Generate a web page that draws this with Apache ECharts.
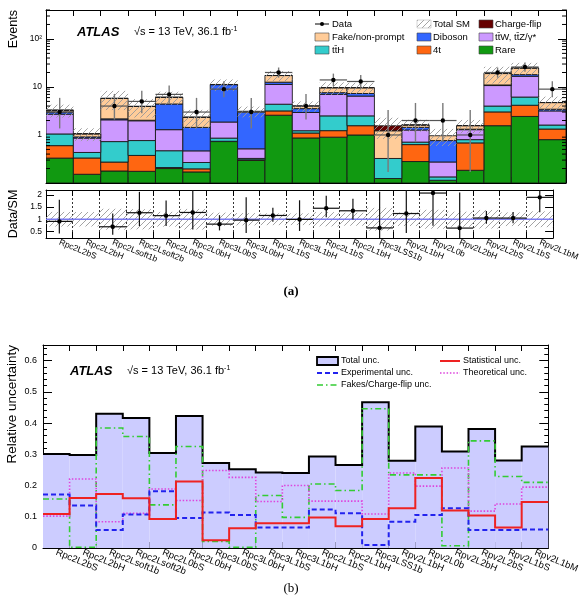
<!DOCTYPE html>
<html><head><meta charset="utf-8">
<script src="https://cdn.jsdelivr.net/npm/echarts@6/dist/echarts.min.js"></script>
<style>html,body{margin:0;padding:0;background:#fff}#c{width:582px;height:602px}</style>
</head><body><div id="c"></div>
<script>
// ---------------- data ----------------
const categories = ['Rpc2L2bS','Rpc2L2bH','Rpc2Lsoft1b','Rpc2Lsoft2b','Rpc2L0bS','Rpc2L0bH','Rpc3L0bS','Rpc3L0bH','Rpc3L1bS','Rpc3L1bH','Rpc2L1bS','Rpc2L1bH','Rpc3LSS1b','Rpv2L1bH','Rpv2L0b','Rpv2L2bH','Rpv2L2bS','Rpv2L1bS','Rpv2L1bM'];
// background yields (stacked, bottom to top)
const rare       = [0.33,0.152,0.178,0.175,0.2,0.17,0.73,0.295,2.58,0.867,0.9,1.0,0.124,0.28,0.114,0.184,1.56,2.43,0.8];
const fourTop    = [0.27,0.18,0.095,0.2,0.01,0.027,0.01,0.01,0.59,0.23,0.33,0.56,0,0.35,0,0.5,1.46,1.73,0.53];
const ttH        = [0.45,0.1,0.455,0.39,0.26,0.07,0.12,0.02,1.2,0.13,1.27,0.94,0.2,0.08,0.02,0.116,0.98,2.0,0.28];
const ttV        = [1.66,0.43,1.34,1.21,0.82,0.2,1.0,0.19,6.9,1.71,4.5,3.95,0,0.56,0.14,0.49,6.7,10.5,1.56];
const diboson    = [0.3,0.05,0.1,0.05,3.13,0.97,9.3,2.5,1.3,0.6,0.6,0.85,0,0.17,0.49,0.03,0.3,1.4,0.27];
const fakes      = [0.26,0.14,3.6,1.9,1.66,0.9,0.1,0.1,4.7,0.47,2.0,2.3,0.9,0.17,0.2,0.24,8.0,6.7,1.28];
const chargeFlip = [0.02,0.01,0.02,0.02,0.02,0.01,0,0,0.05,0.02,0.05,0.05,0.33,0.01,0,0.01,0.05,0.05,0.02];
const dataObs = [3,0,4,5,7,3,9,3,20,4,14,13,1,2,2,1,20,26,9];
const dataLo  = [1.37,0,2.09,2.84,4.42,1.37,6.10,1.37,15.6,2.09,10.4,9.57,0.17,0.71,0.71,0.17,15.6,20.8,6.10];
const dataHi  = [5.92,1.84,7.16,8.38,10.77,5.92,13.15,5.92,25.4,7.16,18.96,17.8,3.30,4.64,4.64,3.30,25.4,32.1,13.15];
// relative uncertainties (panel b)
const totalUnc = [0.301,0.298,0.43,0.416,0.304,0.423,0.272,0.252,0.242,0.24,0.293,0.266,0.467,0.279,0.389,0.309,0.381,0.28,0.325];
const statUnc  = [0.109,0.16,0.173,0.159,0.093,0.213,0.025,0.063,0.079,0.079,0.098,0.07,0.093,0.127,0.224,0.12,0.104,0.066,0.147];
const expUnc   = [0.171,0.136,0.058,0.107,0.182,0.096,0.114,0.106,0.066,0.066,0.123,0.111,0.01,0.084,0.106,0.127,0.058,0.058,0.059];
const theoUnc  = [0.102,0.221,0.084,0.111,0.189,0.152,0.248,0.226,0.149,0.2,0.15,0.15,0.109,0.24,0.198,0.256,0.118,0.141,0.195];
const fakeUnc  = [0.157,0.002,0.384,0.357,0.138,0.325,0.021,0.002,0.168,0.098,0.205,0.184,0.446,0.234,0.234,0.007,0.343,0.229,0.21];
// tick labels
const logMajor = [1,10,100];
const ratioTicks = [0.5,1,1.5,2];

// ---------------- helpers ----------------
const FONT = '"Liberation Sans", Arial, Helvetica, sans-serif';
const YMIN = 0.1, YMAX = 400;
const comps = [rare, fourTop, ttH, ttV, diboson, fakes, chargeFlip];
const compColors = ['#119911','#ff6611','#33cccc','#cc99ff','#3366ff','#ffcc99','#660000'];
const cum = [categories.map(()=>0)];
comps.forEach((arr,k)=>cum.push(arr.map((v,i)=>cum[k][i]+v)));
const totalSM = cum[comps.length];

function hatch(color, lw){
  const c = document.createElement('canvas'); c.width = 6; c.height = 6;
  const g = c.getContext('2d'); g.strokeStyle = color; g.lineWidth = lw || 0.9;
  g.beginPath(); g.moveTo(0,6); g.lineTo(6,0); g.moveTo(-1,1); g.lineTo(1,-1); g.moveTo(5,7); g.lineTo(7,5); g.stroke();
  return {image: c, repeat: 'repeat'};
}
const hatchGray = hatch('#9a9a9a', 0.9);

function stackSeries(k){
  return {type:'custom', xAxisIndex:0, yAxisIndex:0, clip:true, z:2,
    data: categories.map((c,i)=>[i, Math.max(cum[k+1][i], YMIN)]), encode:{x:0,y:1},
    renderItem(params, api){
      const i = api.value(0);
      const lo = Math.max(cum[k][i], YMIN), hi = cum[k+1][i];
      if (hi <= lo || comps[k][i] <= 0) return;
      const w = api.size([1,0])[0];
      const a = api.coord([i, lo]), b = api.coord([i, hi]);
      return {type:'rect', shape:{x:a[0]-w/2, y:b[1], width:w, height:a[1]-b[1]},
        style:{fill:compColors[k], stroke:'#1a1a1a', lineWidth:0.9}};
    }};
}

function stepSeries(arr, xi, yi, style, z){
  return {type:'custom', xAxisIndex:xi, yAxisIndex:yi, z:z, clip:true,
    data: arr.map((v,i)=>[i,v]), encode:{x:0,y:1},
    renderItem(params, api){
      if (params.dataIndex !== 0) return;
      const w = api.size([1,0])[0];
      const pts = [];
      arr.forEach((v,i)=>{ const p = api.coord([i, v]); pts.push([p[0]-w/2, p[1]], [p[0]+w/2, p[1]]); });
      return {type:'polyline', shape:{points:pts}, style:Object.assign({fill:'none'}, style)};
    }};
}

// ---------------- option ----------------
const axisBlack = {lineStyle:{color:'#000', width:1}};
function catAxis(grid, pos, labels, fs){
  return {type:'category', gridIndex:grid, position:pos, data:categories, boundaryGap:true,
    axisLine:{show:true, onZero:false, lineStyle:{color:'#000', width:1}},
    axisTick:{show:true, inside:true, length:6, interval:0, lineStyle:{color:'#000'}},
    axisLabel: labels ? {show:true, interval:0, rotate:-22, margin:4, fontSize:fs, fontFamily:FONT, color:'#000'} : {show:false},
    splitLine: (grid===1 && pos==='bottom') ? {show:true, interval:0, lineStyle:{color:'#000', type:[2,2], width:0.8}} : {show:false}};
}

const option = {
  animation:false,
  backgroundColor:'#fff',
  grid:[
    {left:46, top:10, width:520, height:173},
    {left:46, top:190, width:520, height:48},
    {left:43, top:345, width:514, height:203}
  ],
  xAxis:[
    catAxis(0,'bottom',false), catAxis(0,'top',false),
    catAxis(1,'bottom',true,8.5), catAxis(1,'top',false),
    catAxis(2,'bottom',true,9.5), catAxis(2,'top',false)
  ],
  yAxis:[
    {type:'log', gridIndex:0, logBase:10, min:YMIN, max:YMAX, position:'left',
      axisLine:{show:true, lineStyle:{color:'#000'}}, axisTick:{show:true, inside:true, length:8, lineStyle:{color:'#000'}},
      axisLabel:{show:true, margin:4, fontSize:8.5, fontFamily:FONT, color:'#000',
        formatter:v=>{const e=Math.round(Math.log10(v)); if(Math.abs(Math.log10(v)-e)>1e-6) return ''; const t=Math.pow(10,e); return logMajor.includes(t)? (t===100?'10²':String(t)) : '';}},
      splitLine:{show:false}},
    {type:'log', gridIndex:0, logBase:10, min:YMIN, max:YMAX, position:'right',
      axisLine:{show:true, lineStyle:{color:'#000'}}, axisTick:{show:true, inside:true, length:8, lineStyle:{color:'#000'}},
      axisLabel:{show:false}, splitLine:{show:false}},
    {type:'value', gridIndex:1, min:0.23, max:2.2, position:'left',
      axisLine:{show:true, lineStyle:{color:'#000'}},
      axisTick:{show:true, inside:true, length:8, customValues:ratioTicks, lineStyle:{color:'#000'}},
      axisLabel:{show:true, margin:4, fontSize:8.5, fontFamily:FONT, color:'#000', customValues:ratioTicks, formatter:v=>String(v)},
      splitLine:{show:false}},
    {type:'value', gridIndex:1, min:0.23, max:2.2, position:'right',
      axisLine:{show:true, lineStyle:{color:'#000'}},
      axisTick:{show:true, inside:true, length:8, customValues:ratioTicks, lineStyle:{color:'#000'}},
      axisLabel:{show:false}, splitLine:{show:false}},
    {type:'value', gridIndex:2, min:0, max:0.65, interval:0.1, position:'left',
      axisLine:{show:true, lineStyle:{color:'#000'}},
      axisTick:{show:true, inside:true, length:9, lineStyle:{color:'#000'}},
      minorTick:{show:true, splitNumber:5, length:4, lineStyle:{color:'#000'}},
      axisLabel:{show:true, margin:6, fontSize:9, fontFamily:FONT, color:'#000',
        formatter:v=>{const r=Math.round(v*10)/10; return Math.abs(r-v)<1e-6 ? (r===0?'0':r.toFixed(1)) : '';}},
      splitLine:{show:false}},
    {type:'value', gridIndex:2, min:0, max:0.65, interval:0.1, position:'right',
      axisLine:{show:true, lineStyle:{color:'#000'}},
      axisTick:{show:true, inside:true, length:9, lineStyle:{color:'#000'}},
      minorTick:{show:true, splitNumber:5, length:4, lineStyle:{color:'#000'}},
      axisLabel:{show:false}, splitLine:{show:false}}
  ],
  series:[]
};

// stacked backgrounds
comps.forEach((c,k)=>option.series.push(stackSeries(k)));

// total SM hatched band
option.series.push({type:'custom', xAxisIndex:0, yAxisIndex:0, clip:true, z:5,
  data: categories.map((c,i)=>[i, totalSM[i]]), encode:{x:0,y:1},
  renderItem(params, api){
    const i = api.value(0); const w = api.size([1,0])[0];
    const a = api.coord([i, totalSM[i]*(1-totalUnc[i])]), b = api.coord([i, totalSM[i]*(1+totalUnc[i])]);
    return {type:'rect', shape:{x:a[0]-w/2, y:b[1], width:w, height:a[1]-b[1]}, style:{fill:hatchGray, stroke:null}};
  }});

// log minor ticks on both sides
const minorVals = [];
[0.1,1,10,100].forEach(d=>{for(let m=2;m<=9;m++){const v=m*d; if(v<=YMAX) minorVals.push(v);}});
option.series.push({type:'custom', xAxisIndex:0, yAxisIndex:0, z:6,
  data: minorVals.map(v=>[0,v]), encode:{x:0,y:1},
  renderItem(params, api){
    const cs = params.coordSys; const y = api.coord([0, api.value(1)])[1];
    return {type:'group', children:[
      {type:'line', shape:{x1:cs.x, y1:y, x2:cs.x+4, y2:y}, style:{stroke:'#000', lineWidth:1}},
      {type:'line', shape:{x1:cs.x+cs.width, y1:y, x2:cs.x+cs.width-4, y2:y}, style:{stroke:'#000', lineWidth:1}}
    ]};
  }});

// data points (top)
option.series.push({type:'custom', xAxisIndex:0, yAxisIndex:0, clip:true, z:8,
  data: dataObs.map((v,i)=>[i, Math.max(v, YMIN)]), encode:{x:0,y:1},
  renderItem(params, api){
    const i = api.value(0); if (dataObs[i] <= 0) return;
    const w = api.size([1,0])[0];
    const p = api.coord([i, dataObs[i]]), lo = api.coord([i, dataLo[i]]), hi = api.coord([i, dataHi[i]]);
    return {type:'group', children:[
      {type:'line', shape:{x1:p[0], y1:lo[1], x2:p[0], y2:hi[1]}, style:{stroke:'#7a7a7a', lineWidth:1.4}},
      {type:'line', shape:{x1:p[0]-w/2, y1:p[1], x2:p[0]+w/2, y2:p[1]}, style:{stroke:'#555', lineWidth:1.2}},
      {type:'circle', shape:{cx:p[0], cy:p[1], r:2.2}, style:{fill:'#000'}}
    ]};
  }});

// ratio band
option.series.push({type:'custom', xAxisIndex:2, yAxisIndex:2, clip:true, z:2,
  data: totalUnc.map((u,i)=>[i, 1]), encode:{x:0,y:1},
  renderItem(params, api){
    const i = api.value(0); const w = api.size([1,0])[0];
    const a = api.coord([i, 1-totalUnc[i]]), b = api.coord([i, 1+totalUnc[i]]);
    return {type:'rect', shape:{x:a[0]-w/2, y:b[1], width:w, height:a[1]-b[1]}, style:{fill:hatchGray, stroke:null}};
  }});
// unity line
option.series.push({type:'custom', xAxisIndex:2, yAxisIndex:2, z:3,
  data:[[0,1]], encode:{x:0,y:1},
  renderItem(params, api){
    const cs = params.coordSys; const y = api.coord([0,1])[1];
    return {type:'line', shape:{x1:cs.x, y1:y, x2:cs.x+cs.width, y2:y}, style:{stroke:'#7b7bf0', lineWidth:1.6}};
  }});
// ratio points
option.series.push({type:'custom', xAxisIndex:2, yAxisIndex:2, clip:true, z:8,
  data: dataObs.map((v,i)=>[i, v/totalSM[i]]), encode:{x:0,y:1},
  renderItem(params, api){
    const i = api.value(0); if (dataObs[i] <= 0) return;
    const w = api.size([1,0])[0];
    const p = api.coord([i, dataObs[i]/totalSM[i]]), lo = api.coord([i, dataLo[i]/totalSM[i]]), hi = api.coord([i, dataHi[i]/totalSM[i]]);
    return {type:'group', children:[
      {type:'line', shape:{x1:p[0], y1:lo[1], x2:p[0], y2:hi[1]}, style:{stroke:'#111', lineWidth:1.2}},
      {type:'line', shape:{x1:p[0]-w/2, y1:p[1], x2:p[0]+w/2, y2:p[1]}, style:{stroke:'#111', lineWidth:1.2}},
      {type:'circle', shape:{cx:p[0], cy:p[1], r:2.2}, style:{fill:'#000'}}
    ]};
  }});

// bottom panel: total fill
option.series.push({type:'custom', xAxisIndex:4, yAxisIndex:4, clip:true, z:1,
  data: totalUnc.map((v,i)=>[i,v]), encode:{x:0,y:1},
  renderItem(params, api){
    const i = api.value(0); const w = api.size([1,0])[0];
    const a = api.coord([i, 0]), b = api.coord([i, totalUnc[i]]);
    return {type:'rect', shape:{x:a[0]-w/2, y:b[1], width:w, height:a[1]-b[1]}, style:{fill:'#ccccff', stroke:null}};
  }});
option.series.push(stepSeries(totalUnc, 4, 4, {stroke:'#000', lineWidth:2}, 3));
option.series.push(stepSeries(fakeUnc, 4, 4, {stroke:'#33cc33', lineWidth:1.6, lineDash:[6,3,1.5,3]}, 4));
option.series.push(stepSeries(theoUnc, 4, 4, {stroke:'#dd44dd', lineWidth:1.6, lineDash:[1.5,1.8]}, 5));
option.series.push(stepSeries(expUnc, 4, 4, {stroke:'#2222ee', lineWidth:2, lineDash:[5,3]}, 6));
option.series.push(stepSeries(statUnc, 4, 4, {stroke:'#ee2222', lineWidth:2}, 7));

// ---------------- texts & legends ----------------
const g = [];
function txt(x, y, s, fs, extra){ g.push({type:'text', x:x, y:y, z:100, style:Object.assign({text:s, fontSize:fs, fontFamily:FONT, fill:'#000', align:'left', verticalAlign:'middle'}, extra||{})}); }
function atlas(x, y){
  txt(x, y, 'ATLAS', 13, {fontWeight:'bold', fontStyle:'italic'});
  g.push({type:'text', x:x+57, y:y, z:100, style:{text:'{a|√s = 13 TeV, 36.1 fb}{b|-1}', fontFamily:FONT, fill:'#000', verticalAlign:'middle',
    rich:{a:{fontSize:11, fontFamily:FONT, fill:'#000'}, b:{fontSize:7, fontFamily:FONT, fill:'#000', verticalAlign:'top', padding:[0,0,5,0]}}}});
}
atlas(77, 32);
atlas(70, 371);
// axis titles
g.push({type:'text', x:14, y:10, rotation:Math.PI/2, z:100, style:{text:'Events', fontSize:12.5, fontFamily:FONT, fill:'#000', align:'right', verticalAlign:'middle'}});
g.push({type:'text', x:14, y:214, rotation:Math.PI/2, z:100, style:{text:'Data/SM', fontSize:12.5, fontFamily:FONT, fill:'#000', align:'center', verticalAlign:'middle'}});
g.push({type:'text', x:12, y:345, rotation:Math.PI/2, z:100, style:{text:'Relative uncertainty', fontSize:13.5, fontFamily:FONT, fill:'#000', align:'right', verticalAlign:'middle'}});
txt(291, 292, '(a)', 13, {align:'center', fontFamily:'"Liberation Serif", "DejaVu Serif", serif', fontWeight:'bold'});
txt(291, 589, '(b)', 13, {align:'center', fontFamily:'"Liberation Serif", "DejaVu Serif", serif'});

// top legend
const LF = 9.5;
g.push({type:'line', z:100, shape:{x1:315, y1:24, x2:329, y2:24}, style:{stroke:'#000', lineWidth:1}});
g.push({type:'circle', z:100, shape:{cx:322, cy:24, r:2}, style:{fill:'#000'}});
txt(332, 24, 'Data', LF);
function box(x, y, fill, stroke){ g.push({type:'rect', z:100, shape:{x:x, y:y-4, width:14, height:8}, style:{fill:fill, stroke:stroke||'#444', lineWidth:0.6}}); }
box(417, 24, hatchGray, '#bbb'); txt(433, 24, 'Total SM', LF);
box(479, 24, compColors[6]); txt(495, 24, 'Charge-flip', LF);
box(315, 37, compColors[5]); txt(332, 37, 'Fake/non-prompt', LF);
box(417, 37, compColors[4]); txt(433, 37, 'Diboson', LF);
box(479, 37, compColors[3]); txt(495, 37, 'tt\u0304W, tt\u0304Z/γ*', LF);
box(315, 50, compColors[2]); txt(332, 50, 'tt\u0304H', LF);
box(417, 50, compColors[1]); txt(433, 50, '4t', LF);
box(479, 50, compColors[0]); txt(495, 50, 'Rare', LF);

// bottom legend
const BF = 9;
g.push({type:'rect', z:100, shape:{x:317, y:357, width:21, height:8}, style:{fill:'#ccccff', stroke:'#000', lineWidth:1.8}});
txt(341, 361, 'Total unc.', BF);
g.push({type:'line', z:100, shape:{x1:440, y1:361, x2:460, y2:361}, style:{stroke:'#ee2222', lineWidth:2}});
txt(463, 361, 'Statistical unc.', BF);
g.push({type:'line', z:100, shape:{x1:317, y1:373, x2:338, y2:373}, style:{stroke:'#2222ee', lineWidth:2, lineDash:[5,3]}});
txt(341, 373, 'Experimental unc.', BF);
g.push({type:'line', z:100, shape:{x1:440, y1:373, x2:460, y2:373}, style:{stroke:'#dd44dd', lineWidth:1.6, lineDash:[1.5,1.8]}});
txt(463, 373, 'Theoretical unc.', BF);
g.push({type:'line', z:100, shape:{x1:317, y1:385, x2:338, y2:385}, style:{stroke:'#33cc33', lineWidth:1.6, lineDash:[6,3,1.5,3]}});
txt(341, 385, 'Fakes/Charge-flip unc.', BF);

option.graphic = g;

const chart = echarts.init(document.getElementById('c'), null, {renderer:'canvas'});
chart.setOption(option);
</script></body></html>
